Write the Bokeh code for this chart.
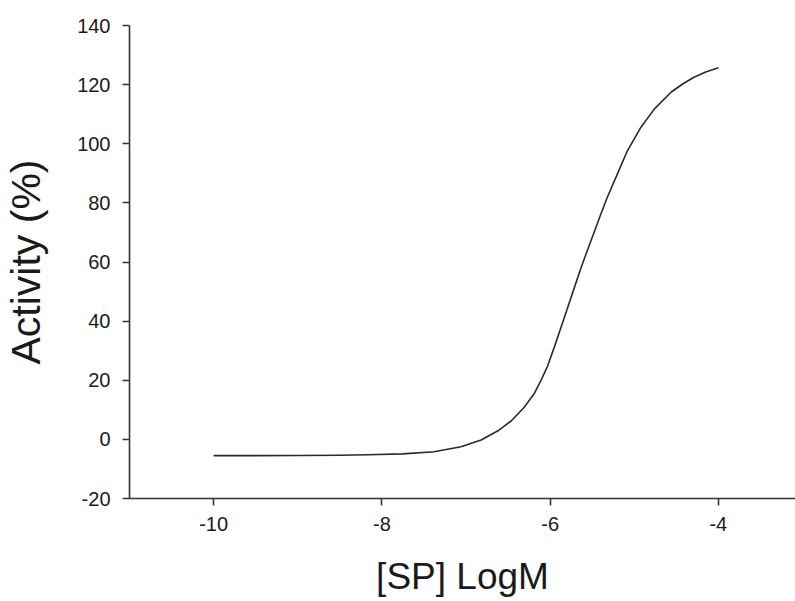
from bokeh.plotting import figure
from bokeh.models import FixedTicker, Range1d, CustomJSTickFormatter
from bokeh.embed import file_html
from bokeh.resources import INLINE

# Values
log_conc = [-10.0, -9.5, -9.0, -8.5, -8.17, -7.75, -7.38, -7.06, -6.82, -6.62, -6.46,
            -6.31, -6.19, -6.11, -6.03, -5.95, -5.87, -5.79, -5.71, -5.63, -5.55,
            -5.47, -5.40, -5.32, -5.20, -5.08, -4.92, -4.76, -4.56, -4.42, -4.29,
            -4.15, -4.0]
activity = [-5.5, -5.5, -5.45, -5.35, -5.2, -4.9, -4.2, -2.5, -0.2, 2.9, 6.3,
            10.8, 15.4, 19.9, 24.8, 31.2, 37.9, 44.7, 51.5, 58.2, 64.5,
            70.6, 76.0, 81.9, 89.8, 97.7, 105.6, 111.8, 117.5, 120.3, 122.5,
            124.3, 125.7]
x_ticks = [-10, -8, -6, -4]
y_ticks = [-20, 0, 20, 40, 60, 80, 100, 120, 140]

FONT = "Liberation Sans"
TXT = "#1a1a1a"
AX = "#333333"

p = figure(width=795, height=601, output_backend="svg", toolbar_location=None,
           x_range=Range1d(-11.0, -3.083), y_range=Range1d(-20, 140),
           min_border_left=128, min_border_top=25, min_border_right=0, min_border_bottom=103)
p.outline_line_color = None
p.xgrid.visible = False
p.ygrid.visible = False
p.background_fill_color = "white"

p.line(log_conc, activity, line_color="#2a2a2a", line_width=1.6, line_join="round")

fmt = CustomJSTickFormatter(code="return tick.toString();")
for ax in (p.xaxis[0], p.yaxis[0]):
    ax.axis_line_color = AX
    ax.axis_line_width = 1.6
    ax.major_tick_line_color = AX
    ax.major_tick_line_width = 1.6
    ax.major_tick_out = 7
    ax.major_tick_in = 0
    ax.minor_tick_line_color = None
    ax.formatter = fmt
    ax.major_label_text_font = FONT
    ax.major_label_text_font_size = "20px"
    ax.major_label_text_color = TXT
    ax.axis_label_text_font = FONT
    ax.axis_label_text_font_style = "normal"
    ax.axis_label_text_color = TXT

p.xaxis[0].ticker = FixedTicker(ticks=x_ticks)
p.yaxis[0].ticker = FixedTicker(ticks=y_ticks)
p.xaxis[0].axis_label = "[SP] LogM"
p.yaxis[0].axis_label = "Activity (%)"
p.xaxis[0].axis_label_text_font_size = "37px"
p.yaxis[0].axis_label_text_font_size = "41px"
p.xaxis[0].major_label_standoff = 11
p.yaxis[0].major_label_standoff = 12
p.xaxis[0].axis_label_standoff = 22
p.yaxis[0].axis_label_standoff = 25

open("out.html", "w").write(file_html(p, INLINE))
